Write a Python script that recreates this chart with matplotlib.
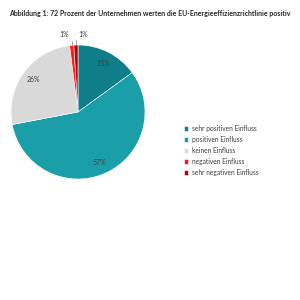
import numpy as np
import matplotlib.pyplot as plt

# Data
labels = ['sehr positiven Einfluss', 'positiven Einfluss', 'keinen Einfluss',
          'negativen Einfluss', 'sehr negativen Einfluss']
values = [15, 57, 26, 1, 1]
colors = ['#0f7e8a', '#1a9fa9', '#d9d9d9', '#ff1a1a', '#c00000']
title = 'Abbildung 1: 72 Prozent der Unternehmen werten die EU-Energieeffizienzrichtlinie positiv'

plt.rcParams['font.family'] = ['Lato', 'DejaVu Sans']

fig = plt.figure(figsize=(3, 3), dpi=100)
ax = fig.add_axes([0, 0, 1, 1])

cx, cy, R = 78, 188, 67
wedges, _ = ax.pie(values, colors=colors, startangle=90, counterclock=False,
                   center=(cx, cy), radius=R, frame=True,
                   wedgeprops=dict(edgecolor='white', linewidth=0.4))
ax.set_xlim(0, 300)
ax.set_ylim(0, 300)
ax.set_aspect('equal')
ax.axis('off')

# percentage labels inside the big slices, leader lines for the small ones
for i, w in enumerate(wedges):
    ang = np.deg2rad((w.theta1 + w.theta2) / 2)
    ux, uy = np.cos(ang), np.sin(ang)
    txt = f'{values[i]}%'
    if values[i] > 5:
        ax.text(cx + 0.82 * R * ux, cy + 0.82 * R * uy, txt, ha='center', va='center',
                fontsize=5, color='#404040')
    else:
        ex, ey = cx + R * ux, cy + R * uy
        side = -1 if i == 3 else 1
        tx = ex + side * 2.5
        ax.annotate(txt, xy=(ex, ey), xytext=(tx, ey + 11), fontsize=5, color='#404040',
                    ha='right' if side < 0 else 'left', va='center',
                    arrowprops=dict(arrowstyle='-', color='#808080', lw=0.5,
                                    shrinkA=0, shrinkB=0,
                                    connectionstyle='angle,angleA=0,angleB=90'))

ax.legend(wedges, labels, loc='upper left', bbox_to_anchor=(0.592, 0.605),
          frameon=False, fontsize=4.8, handlelength=0.7, handleheight=0.7,
          handletextpad=0.5, labelspacing=0.62, labelcolor='#404040')

fig.text(0.5, 0.955, title, ha='center', va='center', fontsize=5, fontweight='bold',
         color='#262626')

fig.savefig('out.png', dpi=100, facecolor='white')
